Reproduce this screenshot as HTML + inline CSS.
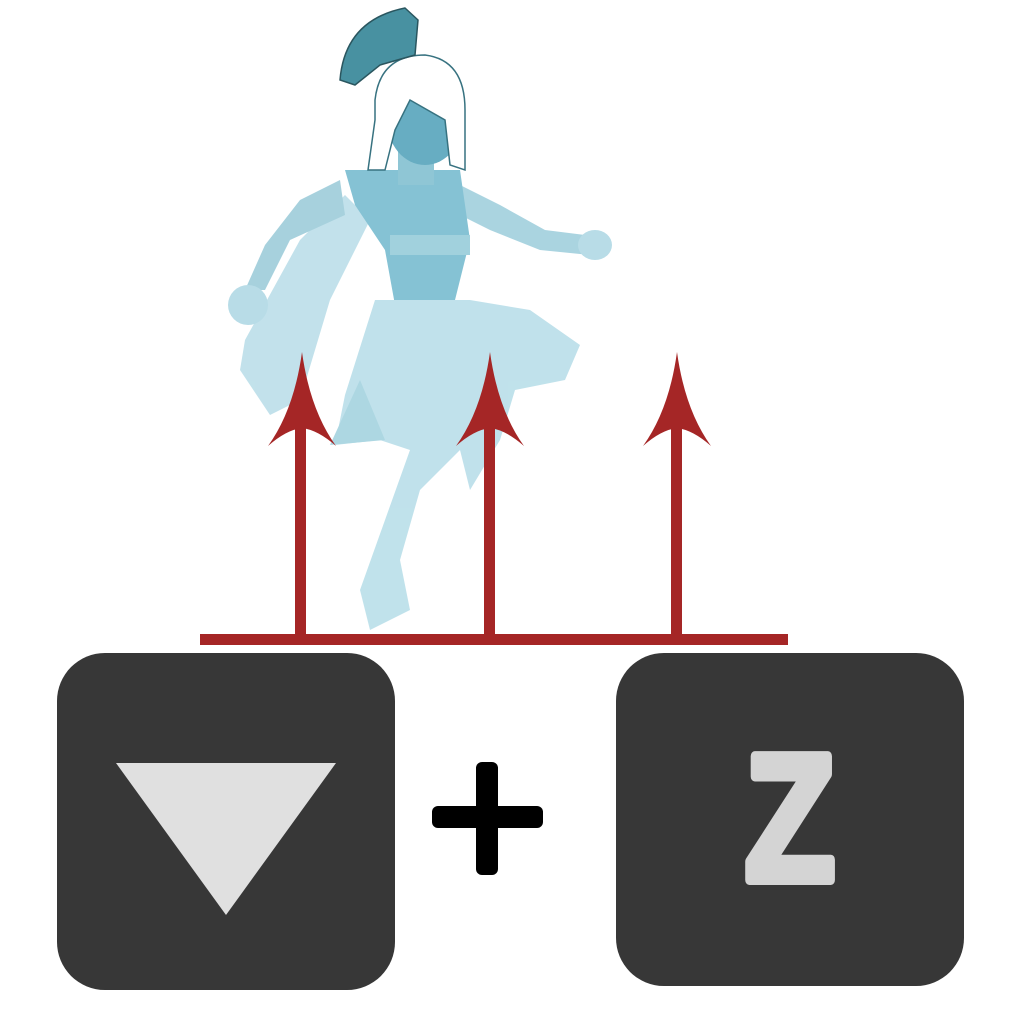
<!DOCTYPE html>
<html><head><meta charset="utf-8"><style>
html,body{margin:0;padding:0;background:#fff;width:1024px;height:1024px;overflow:hidden}
svg{display:block}
</style></head><body>
<svg width="1024" height="1024" viewBox="0 0 1024 1024">
<g opacity="0.95">
  <path d="M345 195 L300 240 L245 340 L240 370 L270 415 L300 400 L330 300 L370 220 Z" fill="#bfe0ea"/>
  <path d="M300 200 L340 180 L345 215 L290 240 L265 290 L245 290 L265 245 Z" fill="#a3cfdc"/>
  <ellipse cx="248" cy="305" rx="20" ry="20" fill="#b5dbe6"/>
  <path d="M460 185 L500 205 L545 230 L585 235 L590 255 L540 250 L490 230 L460 215 Z" fill="#a6d2df"/>
  <ellipse cx="595" cy="245" rx="17" ry="15" fill="#b5dbe6"/>
  <path d="M345 170 L460 170 L470 240 L455 300 L395 305 L385 250 L355 205 Z" fill="#7fbfd2"/>
  <rect x="390" y="235" width="80" height="20" fill="#9ccfdc"/>
  <path d="M375 300 L470 300 L530 310 L580 345 L565 380 L515 390 L500 440 L470 490 L460 450 L440 470 L420 490 L400 560 L410 610 L370 630 L360 590 L385 520 L410 450 L380 440 L335 445 L345 395 Z" fill="#bde0ea"/>
  <path d="M330 445 L360 380 L385 440 Z" fill="#a9d5e1"/>
  <rect x="398" y="150" width="36" height="35" fill="#8ac3d3"/>
  <ellipse cx="425" cy="120" rx="38" ry="45" fill="#5fa9bf"/>
  <path d="M375 100 Q380 55 425 55 Q465 60 465 110 L465 170 L450 165 L445 120 L410 100 L395 130 L385 170 L368 170 L375 120 Z" fill="#ffffff" stroke="#2d6b7a" stroke-width="1.5"/>
  <path d="M340 80 Q345 20 405 8 L418 20 L415 55 L380 65 L355 85 Z" fill="#3f8c9c" stroke="#1f4d57" stroke-width="1.5"/>
</g>
<g fill="#a52626">
  <rect x="200" y="634" width="588" height="11"/>
  <rect x="295" y="420" width="11" height="216"/>
  <path d="M302 352 Q310 410 336 446 Q318 430 302 428 Q286 430 268 446 Q294 410 302 352 Z"/>
  <rect x="484" y="420" width="11" height="216"/>
  <path d="M490 352 Q498 410 524 446 Q506 430 490 428 Q474 430 456 446 Q482 410 490 352 Z"/>
  <rect x="671" y="420" width="11" height="216"/>
  <path d="M677 352 Q685 410 711 446 Q693 430 677 428 Q661 430 643 446 Q669 410 677 352 Z"/>
</g>
<g>
  <rect x="57" y="653" width="338" height="337" rx="48" fill="#373737"/>
  <polygon points="116,763 336,763 226,915" fill="#e0e0e0"/>
</g>
<g fill="#000">
  <rect x="432" y="806" width="111" height="22" rx="6"/>
  <rect x="476" y="762" width="22" height="113" rx="6"/>
</g>
<g>
  <rect x="616" y="653" width="348" height="333" rx="48" fill="#373737"/>
  <text x="0" y="0" transform="translate(790,880) scale(0.82,1)" text-anchor="middle" font-family="Liberation Sans, sans-serif" font-weight="bold" font-size="180" fill="#d4d4d4" stroke="#d4d4d4" stroke-width="10" stroke-linejoin="round">Z</text>
</g>
</svg>
</body></html>
